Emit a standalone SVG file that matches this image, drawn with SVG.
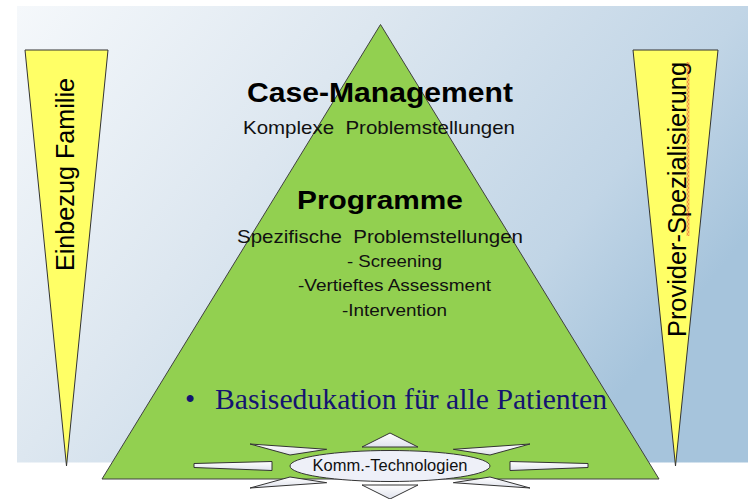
<svg xmlns="http://www.w3.org/2000/svg" width="748" height="499" viewBox="0 0 748 499">
  <defs>
    <linearGradient id="bg" x1="0" y1="0" x2="1" y2="0.5">
      <stop offset="0" stop-color="#f5f8fb"/>
      <stop offset="0.4" stop-color="#dde7f0"/>
      <stop offset="0.8" stop-color="#c1d5e6"/>
      <stop offset="1" stop-color="#a6c4dc"/>
    </linearGradient>
    <linearGradient id="spike" x1="0" y1="0" x2="0" y2="1">
      <stop offset="0" stop-color="#ffffff"/>
      <stop offset="1" stop-color="#dfe2ec"/>
    </linearGradient>
    <pattern id="squiggle" x="686.5" y="62" width="3" height="4" patternUnits="userSpaceOnUse">
      <path d="M0,0 L3,2 L0,4" fill="none" stroke="#e8302a" stroke-width="0.8"/>
    </pattern>
  </defs>
  <style>
    .wedge { fill: #ffff66; stroke: #333333; stroke-width: 1; }
    .pyr { fill: #92d050; stroke: #404040; stroke-width: 1; }
    .spike { fill: url(#spike); stroke: #333333; stroke-width: 1; stroke-linejoin: miter; }
    .side { font-family: "Liberation Sans", Arial, sans-serif; font-size: 25px; fill: #000; }
    .head { font-family: "Liberation Sans", Arial, sans-serif; font-weight: bold; fill: #000; }
    .sub { font-family: "Liberation Sans", Arial, sans-serif; fill: #111; }
    .base { font-family: "Liberation Serif", "Times New Roman", serif; font-size: 29px; fill: #141470; }
  </style>

  <!-- backdrop panel -->
  <rect x="17" y="6" width="731" height="456.5" fill="url(#bg)"/>

  <!-- left wedge: family involvement -->
  <g id="wedge-left">
    <polygon class="wedge" points="25,50 108,50 66.5,466"/>
    <text class="side" transform="translate(74,174.5) rotate(-90)" text-anchor="middle" textLength="193" lengthAdjust="spacingAndGlyphs">Einbezug Familie</text>
  </g>

  <!-- right wedge: provider specialisation -->
  <g id="wedge-right">
    <polygon class="wedge" points="633,50 718,50 675.5,466"/>
    <text class="side" transform="translate(686,199.5) rotate(-90)" text-anchor="middle" textLength="275" lengthAdjust="spacingAndGlyphs">Provider-Spezialisierung</text>
    <rect x="686.5" y="62" width="3" height="174" fill="url(#squiggle)"/>
  </g>

  <!-- pyramid with its tiers -->
  <g id="pyramid">
    <polygon class="pyr" points="380.5,24.5 659,479 102,479"/>
    <text class="head" x="380" y="102" font-size="28" text-anchor="middle" textLength="266" lengthAdjust="spacingAndGlyphs">Case-Management</text>
    <text class="sub" x="243" y="134" font-size="18.5" textLength="272" lengthAdjust="spacingAndGlyphs" xml:space="preserve">Komplexe  Problemstellungen</text>
    <text class="head" x="297" y="209" font-size="25" textLength="166" lengthAdjust="spacingAndGlyphs">Programme</text>
    <text class="sub" x="237" y="242.5" font-size="18.5" textLength="286" lengthAdjust="spacingAndGlyphs" xml:space="preserve">Spezifische  Problemstellungen</text>
    <text class="sub" x="347" y="266.5" font-size="17" textLength="95" lengthAdjust="spacingAndGlyphs">- Screening</text>
    <text class="sub" x="298" y="290.5" font-size="17" textLength="193" lengthAdjust="spacingAndGlyphs">-Vertieftes Assessment</text>
    <text class="sub" x="342" y="315.5" font-size="17" textLength="105" lengthAdjust="spacingAndGlyphs">-Intervention</text>
    <text class="base" x="185" y="408.5">•</text>
    <text class="base" x="215" y="408.5" textLength="392" lengthAdjust="spacingAndGlyphs">Basisedukation für alle Patienten</text>
  </g>

  <!-- communication technologies burst -->
  <g id="komm-technologien">
    <polygon class="spike" points="362,447 390,433 418,447"/>
    <polygon class="spike" points="362,485 390,499 418,485"/>
    <polygon class="spike" points="250,444 326.7,449.3 290,455"/>
    <polygon class="spike" points="250,488 326.7,482.7 290,477"/>
    <polygon class="spike" points="530,444 453.3,449.3 490,455"/>
    <polygon class="spike" points="530,488 453.3,482.7 490,477"/>
    <polygon class="spike" points="194,463.5 272,461.5 272,470.5 194,467.5"/>
    <polygon class="spike" points="588,463.5 510,461.5 510,470.5 588,467.5"/>
    <ellipse cx="390" cy="466" rx="100" ry="15.5" fill="#eef0f8" stroke="#333333" stroke-width="1"/>
    <text class="sub" x="390" y="470.5" font-size="16.5" text-anchor="middle" textLength="155" lengthAdjust="spacingAndGlyphs" fill="#111">Komm.-Technologien</text>
  </g>
</svg>
